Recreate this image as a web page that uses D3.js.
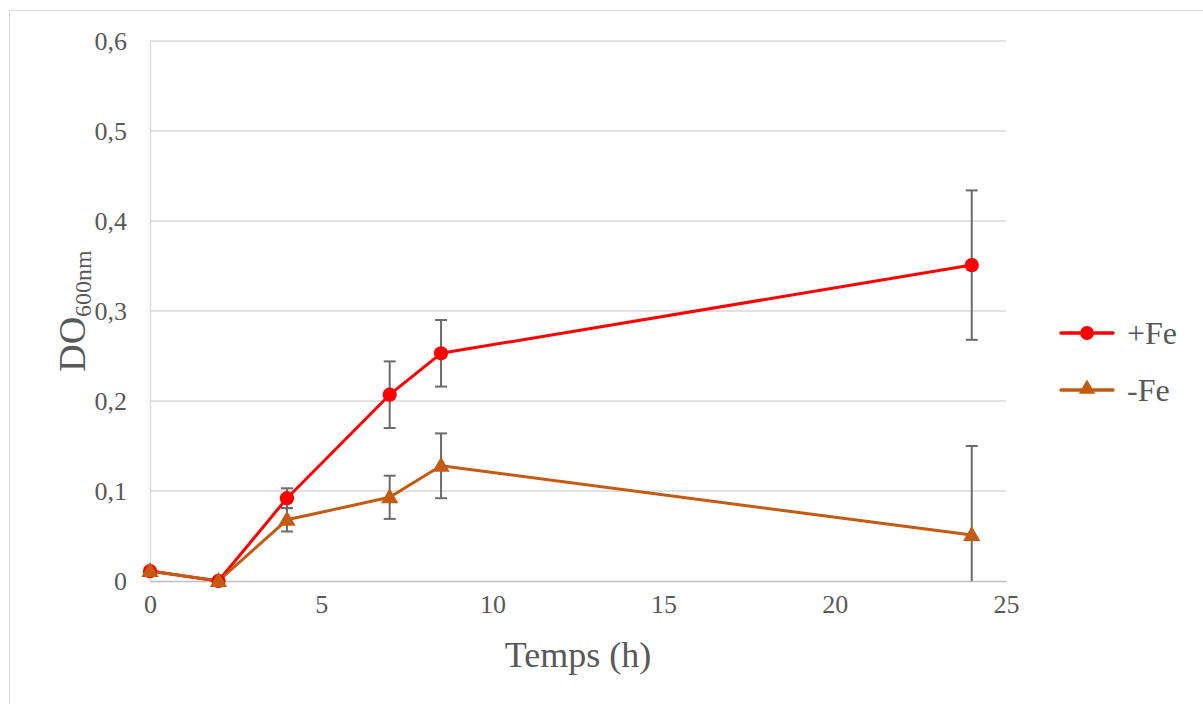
<!DOCTYPE html>
<html><head><meta charset="utf-8">
<script src="https://cdn.jsdelivr.net/npm/d3@7"></script>
<style>body{margin:0;background:#fff}svg{display:block}</style>
</head><body>
<svg id="c" width="1203" height="704"></svg>
<script>
const times = [0, 2, 4, 7, 8.5, 24];
const plusFe = [0.011, 0.0, 0.092, 0.207, 0.253, 0.351];
const plusFeErr = [0.002, 0.001, 0.011, 0.037, 0.037, 0.083];
const minusFe = [0.011, 0.0, 0.068, 0.093, 0.128, 0.051];
const minusFeErr = [0.002, 0.001, 0.013, 0.024, 0.036, 0.099];
const xTicks = [0, 5, 10, 15, 20, 25];
const yTicks = [0, 0.1, 0.2, 0.3, 0.4, 0.5, 0.6];
const seriesNames = ["+Fe", "-Fe"];

const svg = d3.select("#c");
const font = "'Liberation Serif','Times New Roman',serif";
svg.append("rect").attr("x", 9.5).attr("y", 10.5).attr("width", 1200).attr("height", 700)
  .attr("fill", "#fff").attr("stroke", "#d9d9d9");

const x = d3.scaleLinear().domain([0, 25]).range([150, 1006]);
const y = d3.scaleLinear().domain([0, 0.6]).range([581, 41]);

// grid
svg.append("g").selectAll("line").data(yTicks.slice(1)).join("line")
  .attr("x1", 150).attr("x2", 1006).attr("y1", d => y(d)).attr("y2", d => y(d))
  .attr("stroke", "#d9d9d9").attr("stroke-width", 1.3);
// y axis
const ya = svg.append("g").attr("transform", "translate(150,0)")
  .call(d3.axisLeft(y).tickValues(yTicks).tickSize(0).tickPadding(23)
    .tickFormat(d => d === 0 ? "0" : d3.format(".1f")(d).replace(".", ",")));
ya.select(".domain").attr("stroke", "#d9d9d9").attr("stroke-width", 1.3);
ya.selectAll("text").style("font-family", font).style("font-size", "26px").attr("fill", "#595959");
// x axis
const xa = svg.append("g").attr("transform", "translate(0,581)")
  .call(d3.axisBottom(x).tickValues(xTicks).tickSize(0).tickPadding(19));
xa.select(".domain").attr("stroke", "#bfbfbf").attr("stroke-width", 1.5);
xa.selectAll("text").style("font-family", font).style("font-size", "26px").attr("fill", "#595959")
  .attr("dy", "0.5em");

// titles
svg.append("text").attr("x", 578).attr("y", 667).attr("text-anchor", "middle")
  .style("font-family", font).style("font-size", "36px").attr("fill", "#595959").text("Temps (h)");
const yt = svg.append("text").attr("transform", "translate(85,311) rotate(-90)")
  .attr("text-anchor", "middle").style("font-family", font).attr("fill", "#595959");
yt.append("tspan").style("font-size", "38px").text("DO");
yt.append("tspan").style("font-size", "24px").attr("dy", 6).text("600nm");

const series = [
  {name: seriesNames[0], vals: plusFe, err: plusFeErr, color: "#ff0000", sym: d3.symbolCircle},
  {name: seriesNames[1], vals: minusFe, err: minusFeErr, color: "#c55a11", sym: d3.symbolTriangle}
];
const line = d3.line().x((d, i) => x(times[i])).y(d => y(d));

// error bars
series.forEach(s => {
  const g = svg.append("g").attr("stroke", "#6b6b6b").attr("stroke-width", 2);
  s.vals.forEach((v, i) => {
    const lo = Math.max(0, v - s.err[i]), hi = v + s.err[i];
    const cx = x(times[i]);
    g.append("line").attr("x1", cx).attr("x2", cx).attr("y1", y(lo)).attr("y2", y(hi));
    g.append("line").attr("x1", cx - 6).attr("x2", cx + 6).attr("y1", y(hi)).attr("y2", y(hi));
    if (v - s.err[i] >= 0) g.append("line").attr("x1", cx - 6).attr("x2", cx + 6).attr("y1", y(lo)).attr("y2", y(lo));
  });
});
// lines and markers
series.forEach(s => {
  svg.append("path").attr("d", line(s.vals)).attr("fill", "none")
    .attr("stroke", s.color).attr("stroke-width", 3).attr("stroke-linejoin", "round");
});
series.forEach(s => {
  svg.append("g").selectAll("path").data(s.vals).join("path")
    .attr("transform", (d, i) => `translate(${x(times[i])},${y(d) + (s.sym === d3.symbolTriangle ? 1 : 0)})`)
    .attr("d", d3.symbol().type(s.sym).size(s.sym === d3.symbolCircle ? 160 : 130)).attr("fill", s.color);
});

// legend
series.forEach((s, k) => {
  const ly = 333 + k * 57;
  svg.append("line").attr("x1", 1061).attr("x2", 1113).attr("y1", ly).attr("y2", ly)
    .attr("stroke", s.color).attr("stroke-width", 3.5).attr("stroke-linecap", "round");
  svg.append("path").attr("transform", `translate(1087,${ly + (k ? -1 : 0)})`)
    .attr("d", d3.symbol().type(s.sym).size(k ? 120 : 150)).attr("fill", s.color);
  svg.append("text").attr("x", 1127).attr("y", ly + 11).style("font-family", font)
    .style("font-size", "32px").attr("fill", "#595959").text(s.name);
});
</script>
</body></html>
